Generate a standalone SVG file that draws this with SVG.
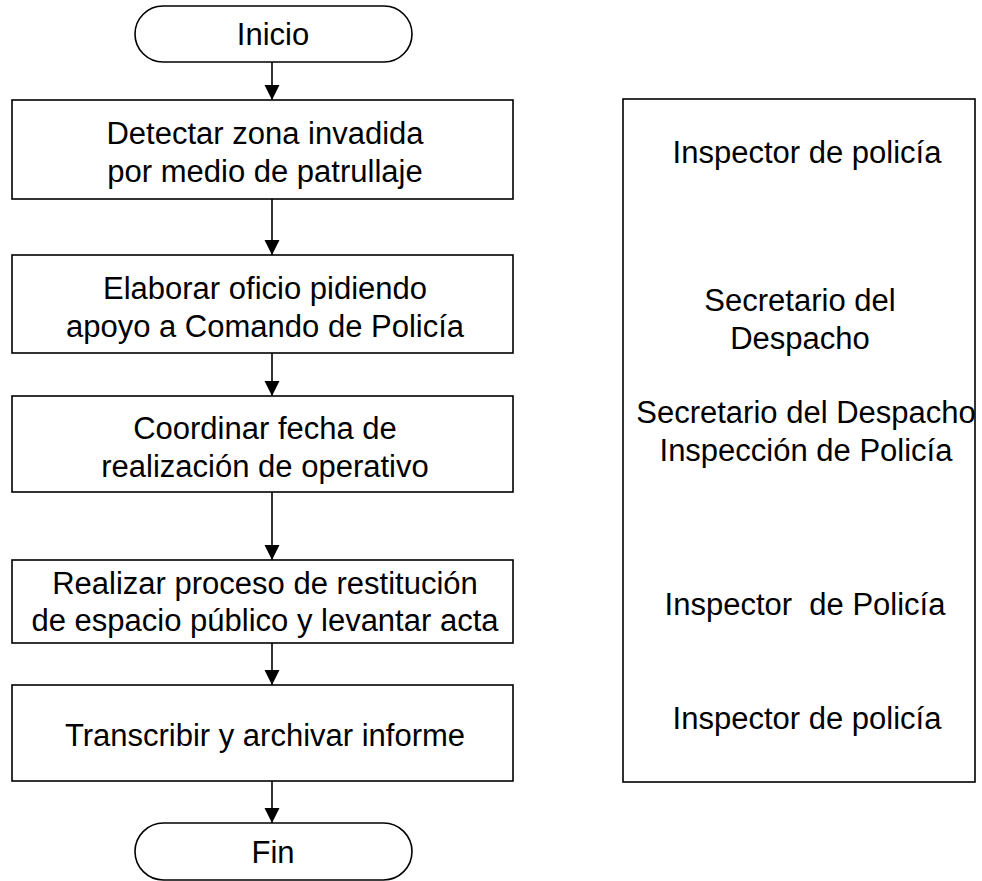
<svg xmlns="http://www.w3.org/2000/svg" width="982" height="881" viewBox="0 0 982 881">
  <style>
    .shape { fill: #ffffff; stroke: #000000; stroke-width: 1.6; }
    .lbl { font-family: "Liberation Sans", Arial, Helvetica, sans-serif; font-size: 31px; fill: #000000; text-anchor: middle; }
    .conn { stroke: #000000; stroke-width: 1.6; fill: none; marker-end: url(#arrow); }
  </style>
  <defs>
    <marker id="arrow" markerUnits="userSpaceOnUse" markerWidth="16" markerHeight="16" refX="15" refY="7.5" orient="auto">
      <path d="M0,0 L15,7.5 L0,15 z" fill="#000000"/>
    </marker>
  </defs>
  <rect width="982" height="881" fill="#ffffff"/>

  <g id="connectors">
    <line class="conn" x1="272" y1="62" x2="272" y2="100"/>
    <line class="conn" x1="272" y1="199" x2="272" y2="255"/>
    <line class="conn" x1="272" y1="353" x2="272" y2="396"/>
    <line class="conn" x1="272" y1="492" x2="272" y2="560"/>
    <line class="conn" x1="272" y1="643" x2="272" y2="685"/>
    <line class="conn" x1="272" y1="781" x2="272" y2="823"/>
  </g>

  <g id="inicio">
    <rect class="shape" x="135" y="6" width="277" height="56" rx="28" ry="28"/>
    <text class="lbl" x="273" y="45">Inicio</text>
  </g>

  <g id="detectar">
    <rect class="shape" x="12" y="100" width="501" height="99"/>
    <text class="lbl" x="265" y="144">Detectar zona invadida</text>
    <text class="lbl" x="265" y="182">por medio de patrullaje</text>
  </g>

  <g id="elaborar">
    <rect class="shape" x="12" y="255" width="501" height="98"/>
    <text class="lbl" x="265" y="299">Elaborar oficio pidiendo</text>
    <text class="lbl" x="265" y="337">apoyo a Comando de Policía</text>
  </g>

  <g id="coordinar">
    <rect class="shape" x="12" y="396" width="501" height="96"/>
    <text class="lbl" x="265" y="439">Coordinar fecha de</text>
    <text class="lbl" x="265" y="477">realización de operativo</text>
  </g>

  <g id="realizar">
    <rect class="shape" x="12" y="560" width="501" height="83"/>
    <text class="lbl" x="265" y="594">Realizar proceso de restitución</text>
    <text class="lbl" x="265" y="631">de espacio público y levantar acta</text>
  </g>

  <g id="transcribir">
    <rect class="shape" x="12" y="685" width="501" height="96"/>
    <text class="lbl" x="265" y="746">Transcribir y archivar informe</text>
  </g>

  <g id="fin">
    <rect class="shape" x="135" y="823" width="277" height="57" rx="28.5" ry="28.5"/>
    <text class="lbl" x="273" y="863">Fin</text>
  </g>

  <g id="responsables">
    <rect class="shape" x="623" y="99" width="352" height="683"/>
    <text class="lbl" x="807" y="163">Inspector de policía</text>
    <text class="lbl" x="800" y="311">Secretario del</text>
    <text class="lbl" x="800" y="349">Despacho</text>
    <text class="lbl" x="806" y="423">Secretario del Despacho</text>
    <text class="lbl" x="806" y="461">Inspección de Policía</text>
    <text class="lbl" x="805" y="615" xml:space="preserve">Inspector  de Policía</text>
    <text class="lbl" x="807" y="729">Inspector de policía</text>
  </g>
</svg>
